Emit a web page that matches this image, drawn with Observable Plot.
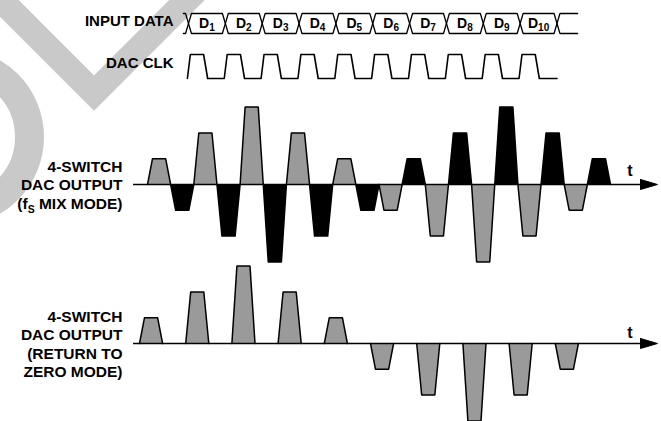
<!DOCTYPE html>
<html><head><meta charset="utf-8">
<script src="https://cdn.jsdelivr.net/npm/d3@7"></script>
<script src="https://cdn.jsdelivr.net/npm/@observablehq/plot@0.6"></script>
<style>
html,body{margin:0;padding:0;background:#fff;}
#chart{position:relative;width:661px;height:421px;overflow:hidden;font-family:"Liberation Sans",Arial,sans-serif;}
#chart svg{position:absolute;left:0;top:0;}
</style></head><body>
<div id="chart">
<svg id="watermark" width="661" height="421" aria-hidden="true">
  <polyline points="-14,-15 94,93 202,-15" fill="none" stroke="#c9c9c9" stroke-width="25" stroke-linejoin="miter"/>
  <circle cx="-45" cy="137" r="74.5" fill="none" stroke="#c9c9c9" stroke-width="29"/>
</svg>
</div>
<script>
// ---- data ----
const sampleLabels = ["D1","D2","D3","D4","D5","D6","D7","D8","D9","D10"];
const sampleValues = [1, 2, 3, 2, 1, -1, -2, -3, -2, -1];
const rowLabels = ["INPUT DATA", "DAC CLK"];
const mixLabel = ["4-SWITCH", "DAC OUTPUT", "(fS MIX MODE)"];
const rzLabel = ["4-SWITCH", "DAC OUTPUT", "(RETURN TO", "ZERO MODE)"];
const timeLabel = "t";

// ---- layout ----
const W = 661, H = 421;
const n = sampleLabels.length;
const FONT = "Liberation Sans, Arial, sans-serif";
const busX = [188, 556.5];           // pixel range of sample boundaries 0..n (input / clock)
const mixX = [147, 610];             // pixel range for output sample 0..n (mix mode)
const rzX = [139, 601];              // pixel range for output sample 0..n (RZ mode)
const unitPx = 25.8;                 // px per amplitude unit
const mixY0 = 184, rzY0 = 343;
const axisStartPx = 133, arrowBasePx = 640, arrowTipPx = 657;

function layer(xRange, yDomain, yRange, marks) {
  return Plot.plot({
    width: W, height: H, margin: 0,
    x: {domain: [0, n], range: xRange, axis: null},
    y: {domain: yDomain, range: yRange, axis: null},
    style: {background: "transparent", overflow: "visible", fontFamily: FONT},
    marks
  });
}

// ---- input data bus ----
const d = 0.08;
const busPts = [];
for (const s of [0, 1]) {
  busPts.push({x: -0.14, y: s, z: s});
  for (let k = 0; k <= n; k++) {
    const L = k % 2 === 0 ? s : 1 - s;
    busPts.push({x: k - d, y: L, z: s});
    busPts.push({x: k + d, y: 1 - L, z: s});
  }
  busPts.push({x: n + 0.56, y: busPts[busPts.length - 1].y, z: s});
}
const busLayer = layer(busX, [0, 1], [33, 13], [
  Plot.line(busPts, {x: "x", y: "y", z: "z", stroke: "black", strokeWidth: 1.3, curve: "linear"}),
  Plot.text(sampleLabels, {x: (v, i) => i + 0.5, y: 0.5, text: v => v, fontSize: 14, fontWeight: "bold", fill: "black"}),
  Plot.text([rowLabels[0]], {x: 0, y: 0.5, dx: -15, dy: -2, text: v => v, textAnchor: "end", fontSize: 15, fontWeight: "bold", fill: "black"})
]);

// ---- DAC clock ----
const clkPts = [];
for (let k = 0; k < n; k++) {
  clkPts.push({x: k - 0.03, y: 0}, {x: k + 0.05, y: 1}, {x: k + 0.41, y: 1}, {x: k + 0.52, y: 0});
}
clkPts.push({x: n, y: 0});
const clkLayer = layer(busX, [0, 1], [78, 54], [
  Plot.line(clkPts, {x: "x", y: "y", stroke: "black", strokeWidth: 1.6}),
  Plot.text([rowLabels[1]], {x: 0, y: 0.5, dx: -15, dy: -3.5, text: v => v, textAnchor: "end", fontSize: 15, fontWeight: "bold", fill: "black"})
]);

// ---- output panels ----
function pulses(values, offset, sign, xr) {
  const ins = 5 / ((xr[1] - xr[0]) / n);
  const pts = [];
  values.forEach((v, i) => {
    const x0 = i + offset, val = sign * v;
    pts.push({x: x0, y: 0, z: i}, {x: x0 + ins, y: val, z: i}, {x: x0 + 0.5 - ins, y: val, z: i}, {x: x0 + 0.5, y: 0, z: i});
  });
  return pts;
}
function outputLayer(xr, y0, label, greyPts, blackPts, tDy) {
  const sx = d3.scaleLinear([0, n], xr);
  const a0 = sx.invert(axisStartPx), ab = sx.invert(arrowBasePx), at = sx.invert(arrowTipPx);
  const hh = 5 / unitPx;
  const marks = [
    Plot.line(greyPts, {x: "x", y: "y", z: "z", fill: "#9a9a9a", stroke: "black", strokeWidth: 1.5, strokeLinejoin: "miter"})
  ];
  if (blackPts) marks.push(Plot.line(blackPts, {x: "x", y: "y", z: "z", fill: "black", stroke: "black", strokeWidth: 1.5}));
  marks.push(
    Plot.ruleY([0], {x1: a0, x2: ab, stroke: "black", strokeWidth: 1.7}),
    Plot.line([{x: ab, y: hh}, {x: at, y: 0}, {x: ab, y: -hh}, {x: ab, y: hh}], {x: "x", y: "y", fill: "black", stroke: "black", strokeWidth: 1}),
    Plot.text([timeLabel], {x: sx.invert(629.5), y: 0, dy: tDy, text: v => v, fontSize: 16, fontWeight: "bold", fill: "black"}),
    Plot.text([label.join("\n")], {x: a0, y: 0, dx: -11, text: v => v, textAnchor: "end", lineAnchor: "middle", lineHeight: 1.2, fontSize: 15.5, fontWeight: "bold", fill: "black"})
  );
  return layer(xr, [-3, 3], [y0 + 3 * unitPx, y0 - 3 * unitPx], marks);
}
const mixLayer = outputLayer(mixX, mixY0, mixLabel,
  pulses(sampleValues, 0, 1, mixX), pulses(sampleValues, 0.5, -1, mixX), -14);
const rzLayer = outputLayer(rzX, rzY0, rzLabel,
  pulses(sampleValues, 0, 1, rzX), null, -11);

const chart = document.getElementById("chart");
for (const svg of [busLayer, clkLayer, mixLayer, rzLayer]) chart.appendChild(svg);

// ---- subscripts (D1..D10 and fS) ----
const NS = "http://www.w3.org/2000/svg";
busLayer.querySelectorAll("text").forEach(t => {
  const m = /^D(\d+)$/.exec(t.textContent);
  if (!m) return;
  t.textContent = "D";
  const sub = document.createElementNS(NS, "tspan");
  sub.setAttribute("font-size", "10");
  sub.setAttribute("dy", "3");
  sub.textContent = m[1];
  t.appendChild(sub);
});
mixLayer.querySelectorAll("tspan, text").forEach(t => {
  if (t.children.length === 0 && t.textContent === "(fS MIX MODE)") {
    t.textContent = "(f";
    const s = document.createElementNS(NS, "tspan");
    s.setAttribute("font-size", "10.5");
    s.setAttribute("dy", "3.5");
    s.textContent = "S";
    const r = document.createElementNS(NS, "tspan");
    r.setAttribute("dy", "-3.5");
    r.textContent = " MIX MODE)";
    t.appendChild(s); t.appendChild(r);
  }
});
</script>
</body></html>
